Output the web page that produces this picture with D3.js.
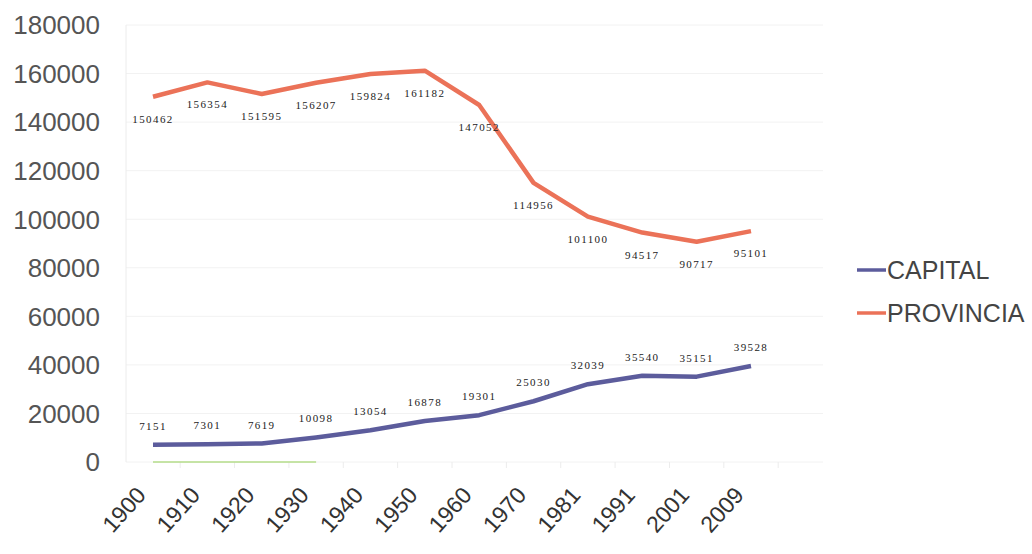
<!DOCTYPE html>
<html>
<head>
<meta charset="utf-8" />
<title>Capital y Provincia</title>
<style>
body { margin: 0; background: #fff; }
.axis text { font-family: "Liberation Sans", Arial, sans-serif; fill: #555; }
.dlabel { font-family: "Liberation Serif", serif; font-size: 11px; fill: #222; letter-spacing: 1.4px; }
</style>
</head>
<body>
<div id="chart"></div>
<script src="https://d3js.org/d3.v7.min.js"></script>
<script>
(function(d3) {
	'use strict';

	var years = ['1900', '1910', '1920', '1930', '1940', '1950', '1960', '1970', '1981', '1991', '2001', '2009'];
	var capital = [7151, 7301, 7619, 10098, 13054, 16878, 19301, 25030, 32039, 35540, 35151, 39528];
	var provincia = [150462, 156354, 151595, 156207, 159824, 161182, 147052, 114956, 101100, 94517, 90717, 95101];
	var otro = [0, 0, 0, 0];
	var yTicks = [0, 20000, 40000, 60000, 80000, 100000, 120000, 140000, 160000, 180000];

	var width = 1032;
	var height = 554;

	var svg = d3.select('#chart').append('svg')
		.attr('width', width).attr('height', height);

	var x = d3.scalePoint().domain(years).range([153, 751]);
	var y = d3.scaleLinear().domain([0, 180000]).range([462, 25]);
	var left = 126, right = 823;

	// gridlines
	svg.append('g').selectAll('line').data(yTicks).enter().append('line')
		.attr('x1', left).attr('x2', right)
		.attr('y1', function(d) { return y(d); })
		.attr('y2', function(d) { return y(d); })
		.attr('stroke', '#f2f2f2').attr('stroke-width', 1);

	// y axis line
	svg.append('line').attr('x1', left).attr('x2', left)
		.attr('y1', y(180000)).attr('y2', y(0))
		.attr('stroke', '#ececec');

	// y labels
	svg.append('g').attr('class', 'axis').selectAll('text').data(yTicks).enter().append('text')
		.attr('x', 100).attr('y', function(d) { return y(d); })
		.attr('dy', '0.36em').attr('text-anchor', 'end')
		.style('font-size', '26px')
		.text(function(d) { return d; });

	// x tick marks
	var step = x.step();
	svg.append('g').selectAll('line').data(years).enter().append('line')
		.attr('x1', function(d) { return x(d) + step / 2; })
		.attr('x2', function(d) { return x(d) + step / 2; })
		.attr('y1', y(0)).attr('y2', y(0) + 6)
		.attr('stroke', '#ececec');

	// x labels
	svg.append('g').attr('class', 'axis').selectAll('text').data(years).enter().append('text')
		.attr('transform', function(d) { return 'translate(' + (x(d) - 6) + ',' + 496 + ') rotate(-48)'; })
		.attr('text-anchor', 'end')
		.style('font-size', '23px')
		.style('fill', '#333')
		.text(function(d) { return d; });

	var line = d3.line()
		.x(function(d, i) { return x(years[i]); })
		.y(function(d) { return y(d); });

	svg.append('path').datum(otro).attr('d', line)
		.attr('fill', 'none').attr('stroke', '#b5dc8a').attr('stroke-width', 1.5);

	svg.append('path').datum(provincia).attr('d', line)
		.attr('fill', 'none').attr('stroke', '#eb7258').attr('stroke-width', 4.5)
		.attr('stroke-linejoin', 'round');

	svg.append('path').datum(capital).attr('d', line)
		.attr('fill', 'none').attr('stroke', '#5c5c9c').attr('stroke-width', 4.5)
		.attr('stroke-linejoin', 'round');

	// data labels
	svg.append('g').selectAll('text').data(provincia).enter().append('text')
		.attr('class', 'dlabel')
		.attr('x', function(d, i) { return x(years[i]); })
		.attr('y', function(d) { return y(d) + 26; })
		.attr('text-anchor', 'middle')
		.text(function(d) { return d; });

	svg.append('g').selectAll('text').data(capital).enter().append('text')
		.attr('class', 'dlabel')
		.attr('x', function(d, i) { return x(years[i]); })
		.attr('y', function(d) { return y(d) - 15; })
		.attr('text-anchor', 'middle')
		.text(function(d) { return d; });

	// legend
	var legend = svg.selectAll('.legend')
		.data([{ name: 'CAPITAL', color: '#5c5c9c' }, { name: 'PROVINCIA', color: '#eb7258' }])
		.enter().append('g').attr('class', 'legend')
		.attr('transform', function(d, i) { return 'translate(857,' + (270 + i * 43) + ')'; });

	legend.append('line').attr('x1', 0).attr('x2', 29).attr('y1', 0).attr('y2', 0)
		.attr('stroke', function(d) { return d.color; }).attr('stroke-width', 3.5);

	legend.append('text').attr('x', 30).attr('dy', '0.36em')
		.style('font-family', '"Liberation Sans", Arial, sans-serif')
		.style('font-size', '25px').style('fill', '#444')
		.text(function(d) { return d.name; });

})(window.d3);
</script>
</body>
</html>
